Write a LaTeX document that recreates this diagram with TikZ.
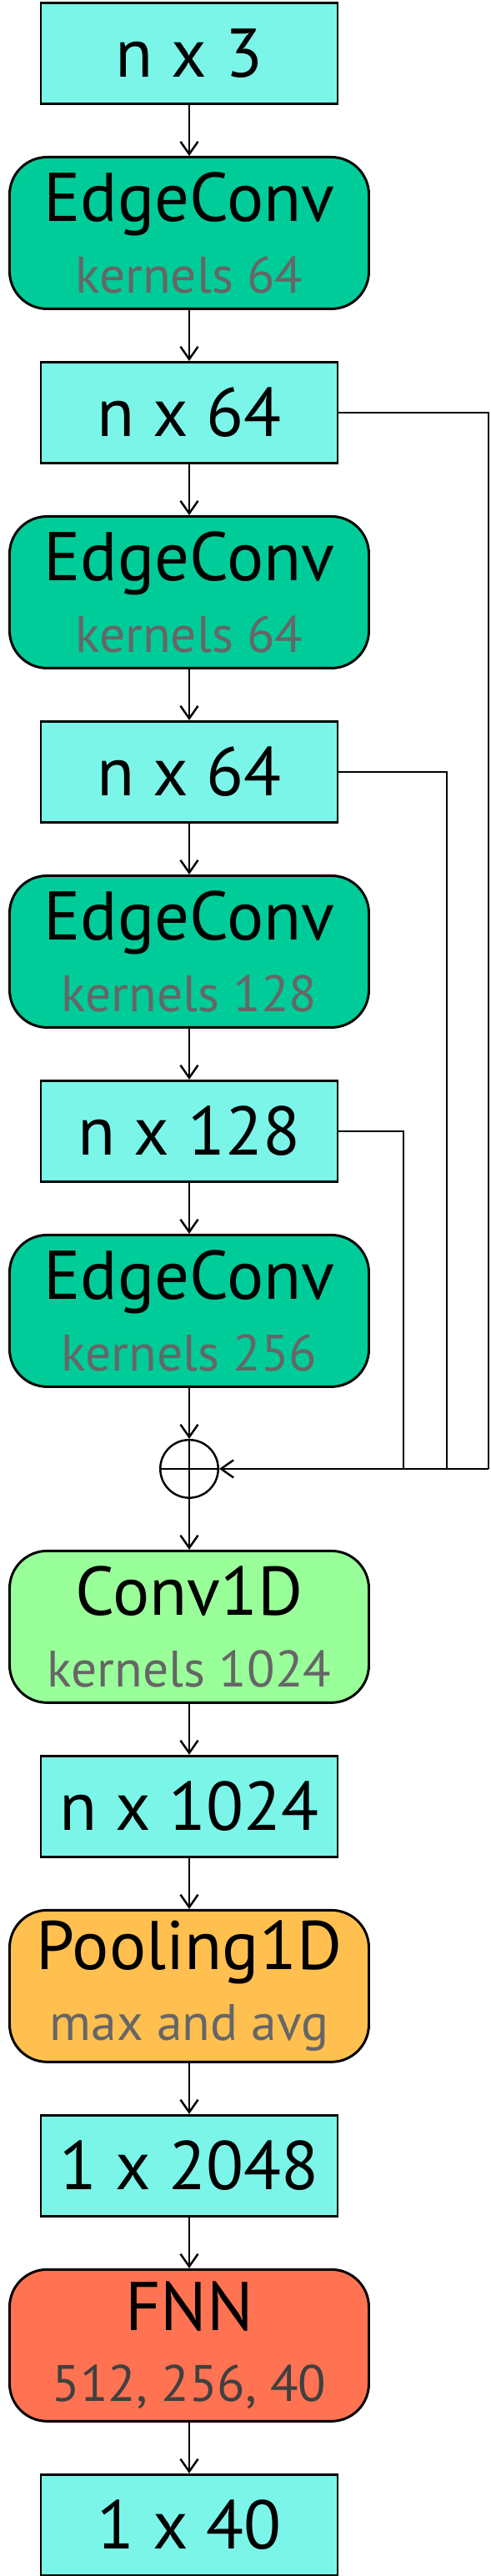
\documentclass[tikz,border=0pt]{standalone}
\usepackage{fontspec}
\setmainfont{PT Sans}
\usepackage{tikz}
\usetikzlibrary{arrows.meta,positioning,calc}
\definecolor{tensorcyan}{HTML}{7CF5E9}
\definecolor{edgegreen}{HTML}{00CC99}
\definecolor{convgreen}{HTML}{99FF99}
\definecolor{poolorange}{HTML}{FFC050}
\definecolor{fnnred}{HTML}{FF7352}
\definecolor{subgray}{HTML}{666666}
\definecolor{fnngray}{HTML}{404040}
\newcommand{\bigfont}{\fontsize{47}{42.5}\selectfont}
\newcommand{\subtxt}[2][subgray]{{\fontsize{35}{42.5}\selectfont\color{#1}#2}}

\begin{document}
\begin{tikzpicture}[
    node distance=1.22cm,
    >={Straight Barb[length=0.3cm, width=0.42cm]},
    tensor/.style={draw, fill=tensorcyan, rectangle, minimum height=2.42cm, minimum width=7.12cm, align=center, font=\bigfont, line width=1.7pt},
    edgeconv/.style={draw, fill=edgegreen, rectangle, rounded corners=0.9cm, minimum height=3.64cm, minimum width=8.62cm, align=center, font=\bigfont, line width=1.7pt},
    conv/.style={edgeconv, fill=convgreen},
    pool/.style={edgeconv, fill=poolorange},
    fnn/.style={edgeconv, fill=fnnred},
    sum/.style={draw, circle, inner sep=0pt, minimum size=1.39cm, line width=1.4pt,
        path picture={\draw[line width=1.4pt] (path picture bounding box.north) -- (path picture bounding box.south)
            (path picture bounding box.west) -- (path picture bounding box.east);}},
    coord/.style={coordinate}
]
    \useasboundingbox (0,0) rectangle (11.78,-61.8);

    % Bloco EdgeConv (topo)
    \node[tensor] (nx3) at (4.54,-1.28) {n x 3};
    \node[edgeconv, below=of nx3] (ec1) {EdgeConv\\[6pt]\subtxt{kernels 64}};
    \node[tensor, below=of ec1] (nx64a) {n x 64};
    \node[edgeconv, below=of nx64a] (ec2) {EdgeConv\\[6pt]\subtxt{kernels 64}};
    \node[tensor, below=of ec2] (nx64b) {n x 64};
    \node[edgeconv, below=of nx64b] (ec3) {EdgeConv\\[6pt]\subtxt{kernels 128}};
    \node[tensor, below=of ec3] (nx128) {n x 128};
    \node[edgeconv, below=of nx128] (ec4) {EdgeConv\\[6pt]\subtxt{kernels 256}};
    \node[sum, below=of ec4] (add) {};

    % Cabeca de classificacao
    \node[conv, below=of add] (conv) {Conv1D\\[6pt]\subtxt{kernels 1024}};
    \node[tensor, below=of conv] (nx1024) {n x 1024};
    \node[pool, below=of nx1024] (pool) {Pooling1D\\[6pt]\subtxt{max and avg}};
    \node[tensor, below=of pool] (vec2048) {1 x 2048};
    \node[fnn, below=of vec2048] (fnn) {FNN\\[6pt]\subtxt[fnngray]{512, 256, 40}};
    \node[tensor, below=of fnn] (vec40) {1 x 40};

    % Pontos do barramento de atalho
    \coordinate (busA) at (11.72,0 |- add);
    \coordinate (busB) at (10.72,0 |- add);
    \coordinate (busC) at (9.68,0 |- add);

    % Ligacoes principais
    \draw[->, line width=1.4pt] (nx3) -- (ec1);
    \draw[->, line width=1.4pt] (ec1) -- (nx64a);
    \draw[->, line width=1.4pt] (nx64a) -- (ec2);
    \draw[->, line width=1.4pt] (ec2) -- (nx64b);
    \draw[->, line width=1.4pt] (nx64b) -- (ec3);
    \draw[->, line width=1.4pt] (ec3) -- (nx128);
    \draw[->, line width=1.4pt] (nx128) -- (ec4);
    \draw[->, line width=1.4pt] (ec4) -- (add);
    \draw[->, line width=1.4pt] (add) -- (conv);
    \draw[->, line width=1.4pt] (conv) -- (nx1024);
    \draw[->, line width=1.4pt] (nx1024) -- (pool);
    \draw[->, line width=1.4pt] (pool) -- (vec2048);
    \draw[->, line width=1.4pt] (vec2048) -- (fnn);
    \draw[->, line width=1.4pt] (fnn) -- (vec40);

    % Atalhos (concatenacao das saidas)
    \draw[line width=1.4pt] (nx64a.east) -| (busA);
    \draw[line width=1.4pt] (nx64b.east) -| (busB);
    \draw[line width=1.4pt] (nx128.east) -| (busC);
    \draw[->, line width=1.4pt] (busA) -- (add.east);

\end{tikzpicture}
\end{document}
